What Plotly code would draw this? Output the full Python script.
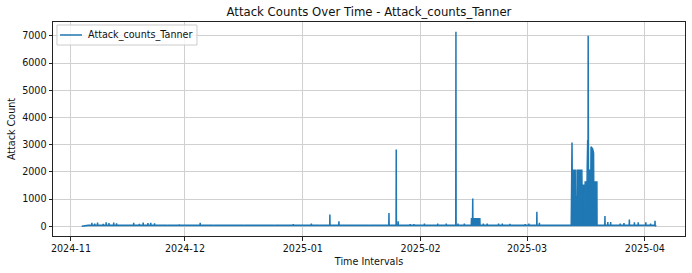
import pandas as pd
import plotly.graph_objects as go

# ---- data ----
series_name = "Attack_counts_Tanner"
series_start = "2024-11-03 20:00"
series_end = "2025-04-04 00:00"
quiet_count = 35  # typical low hourly level between bursts

# isolated hourly spikes (peak time, peak count)
spike_times = [
    "2024-11-05 12:00", "2024-11-06 12:00", "2024-11-07 06:00", "2024-11-08 00:00",
    "2024-11-09 12:00", "2024-11-10 06:00", "2024-11-11 00:00", "2024-11-12 06:00",
    "2024-11-13 00:00", "2024-11-15 12:00", "2024-11-17 12:00", "2024-11-19 00:00",
    "2024-11-20 00:00", "2024-11-21 06:00", "2024-11-22 00:00", "2024-11-23 00:00",
    "2024-11-26 12:00", "2024-11-29 12:00", "2024-12-02 12:00", "2024-12-05 00:00",
    "2024-12-08 12:00", "2024-12-12 12:00", "2024-12-16 12:00", "2024-12-20 12:00",
    "2024-12-24 12:00", "2024-12-29 12:00", "2025-01-03 06:00", "2025-01-05 12:00",
    "2025-01-08 03:00", "2025-01-10 12:00", "2025-01-14 12:00", "2025-01-18 12:00",
    "2025-01-21 12:00", "2025-01-23 16:00", "2025-01-25 14:00", "2025-01-26 02:00",
    "2025-01-29 06:00", "2025-01-30 06:00", "2025-02-02 00:00", "2025-02-05 12:00",
    "2025-02-07 18:00", "2025-02-10 07:00", "2025-02-10 20:00", "2025-02-12 12:00",
    "2025-02-17 12:00", "2025-02-18 12:00", "2025-02-21 12:00", "2025-02-22 12:00",
    "2025-02-24 12:00", "2025-02-28 12:00", "2025-03-01 12:00", "2025-03-03 14:00",
    "2025-03-04 06:00", "2025-03-07 12:00", "2025-03-10 12:00", "2025-03-21 12:00",
    "2025-03-22 06:00", "2025-03-23 00:00", "2025-03-25 12:00", "2025-03-26 12:00",
    "2025-03-27 22:00", "2025-03-29 06:00", "2025-03-30 06:00", "2025-04-01 06:00",
    "2025-04-02 12:00", "2025-04-03 16:00",
]
spike_counts = [
    60, 130, 100, 140,
    90, 150, 120, 140,
    110, 60, 130, 90,
    140, 120, 130, 110,
    50, 70, 60, 130,
    50, 60, 50, 60,
    50, 80, 100, 50,
    430, 180, 60, 50,
    60, 490, 2820, 180,
    80, 80, 100, 100,
    100, 7150, 100, 100,
    100, 100, 100, 100,
    90, 80, 100, 530,
    130, 60, 60, 380,
    160, 160, 100, 120,
    250, 150, 150, 150,
    100, 200,
]

# sustained bursts (explicit hourly readings)
burst_times = [
    # mid-February burst
    "2025-02-14 08:00", "2025-02-14 09:00", "2025-02-14 16:00", "2025-02-14 17:00",
    "2025-02-14 18:00", "2025-02-16 14:00", "2025-02-16 15:00",
    # mid-March burst
    "2025-03-12 15:00", "2025-03-12 16:00", "2025-03-12 20:00", "2025-03-12 21:00",
    "2025-03-13 16:00", "2025-03-13 17:00", "2025-03-14 03:00", "2025-03-14 04:00",
    "2025-03-15 10:00", "2025-03-15 11:00", "2025-03-16 01:00", "2025-03-16 02:00",
    "2025-03-16 06:00", "2025-03-16 07:00", "2025-03-16 19:00", "2025-03-16 20:00",
    "2025-03-16 23:00", "2025-03-17 00:00", "2025-03-17 01:00", "2025-03-17 02:00",
    "2025-03-17 03:00", "2025-03-17 04:00", "2025-03-17 19:00", "2025-03-17 20:00",
    "2025-03-18 06:00", "2025-03-18 12:00", "2025-03-18 13:00", "2025-03-19 09:00",
    "2025-03-19 10:00",
]
burst_counts = [
    35, 280, 280, 1020,
    280, 280, 35,
    35, 3080, 3080, 2060,
    2060, 1080, 1080, 2060,
    2060, 1510, 1510, 35,
    35, 1630, 1630, 2200,
    3170, 2200, 2200, 7000,
    2200, 2060, 2060, 2920,
    2850, 2700, 1630, 1630,
    35,
]

month_ticks = ["2024-11-01", "2024-12-01", "2025-01-01", "2025-02-01", "2025-03-01", "2025-04-01"]
month_labels = ["2024-11", "2024-12", "2025-01", "2025-02", "2025-03", "2025-04"]
y_ticks = [0, 1000, 2000, 3000, 4000, 5000, 6000, 7000]

# ---- assemble the hourly series ----
hour = pd.Timedelta(hours=1)
points = [(pd.Timestamp(series_start), 0), (pd.Timestamp(series_end), 0)]
for t, v in zip(spike_times, spike_counts):
    ts = pd.Timestamp(t)
    points += [(ts - hour, quiet_count), (ts, v), (ts + hour, quiet_count)]
for t, v in zip(burst_times, burst_counts):
    points.append((pd.Timestamp(t), v))
points.sort(key=lambda p: p[0])
xs = [p[0] for p in points]
ys = [p[1] for p in points]

# matplotlib-like 5% data margins
t0, t1 = min(xs), max(xs)
xpad = (t1 - t0) * 0.05
ylo, yhi = min(min(ys), 0), max(ys)
ypad = (yhi - ylo) * 0.05

blue = "#1f77b4"
font = "DejaVu Sans, Verdana, sans-serif"

fig = go.Figure()
fig.add_trace(go.Scatter(
    x=xs, y=ys, mode="lines", fill="tozeroy", fillcolor=blue,
    line=dict(width=0, color=blue), showlegend=False, hoverinfo="skip",
))
fig.add_trace(go.Scatter(
    x=xs, y=ys, mode="lines", name=series_name, showlegend=False,
    line=dict(width=1.5, color=blue),
))

axis_common = dict(
    showline=True, mirror=True, linecolor="#222", linewidth=1,
    ticks="outside", ticklen=3.5, tickwidth=0.8, tickcolor="#222",
    showgrid=True, gridcolor="#d0d0d0", gridwidth=1,
    zeroline=False, tickfont=dict(family=font, size=9.6, color="#111"),
)

# legend box drawn in the matplotlib style (upper left, compact)
fig.add_shape(type="rect", xref="paper", yref="paper",
              x0=0.0063, x1=0.2278, y0=0.8925, y1=0.986,
              line=dict(color="#cccccc", width=1), fillcolor="rgba(255,255,255,0.8)",
              layer="above")
fig.add_shape(type="line", xref="paper", yref="paper",
              x0=0.0111, x1=0.0459, y0=0.9393, y1=0.9393,
              line=dict(color=blue, width=1.5), layer="above")
fig.add_annotation(text=series_name, xref="paper", yref="paper",
                   x=0.0530, y=0.9393, xanchor="left", yanchor="middle",
                   showarrow=False, font=dict(family=font, size=9.6, color="#111"))

fig.update_layout(
    width=692, height=273,
    margin=dict(l=53, r=7, t=22, b=37),
    paper_bgcolor="white", plot_bgcolor="white",
    font=dict(family=font, size=9.6, color="#111"),
    title=dict(
        text="Attack Counts Over Time - Attack_counts_Tanner",
        x=0.5, xref="paper", xanchor="center",
        y=1 - 12 / 273, yref="container", yanchor="middle",
        font=dict(family=font, size=11.7, color="#111"),
    ),
    xaxis=dict(
        type="date", range=[t0 - xpad, t1 + xpad],
        tickvals=month_ticks, ticktext=month_labels,
        title=dict(text="Time Intervals", font=dict(family=font, size=9.6), standoff=5),
        **axis_common,
    ),
    yaxis=dict(
        range=[ylo - ypad, yhi + ypad], tickvals=y_ticks,
        title=dict(text="Attack Count", font=dict(family=font, size=9.6), standoff=4),
        **axis_common,
    ),
    showlegend=False,
)

fig.write_html("out.html")
